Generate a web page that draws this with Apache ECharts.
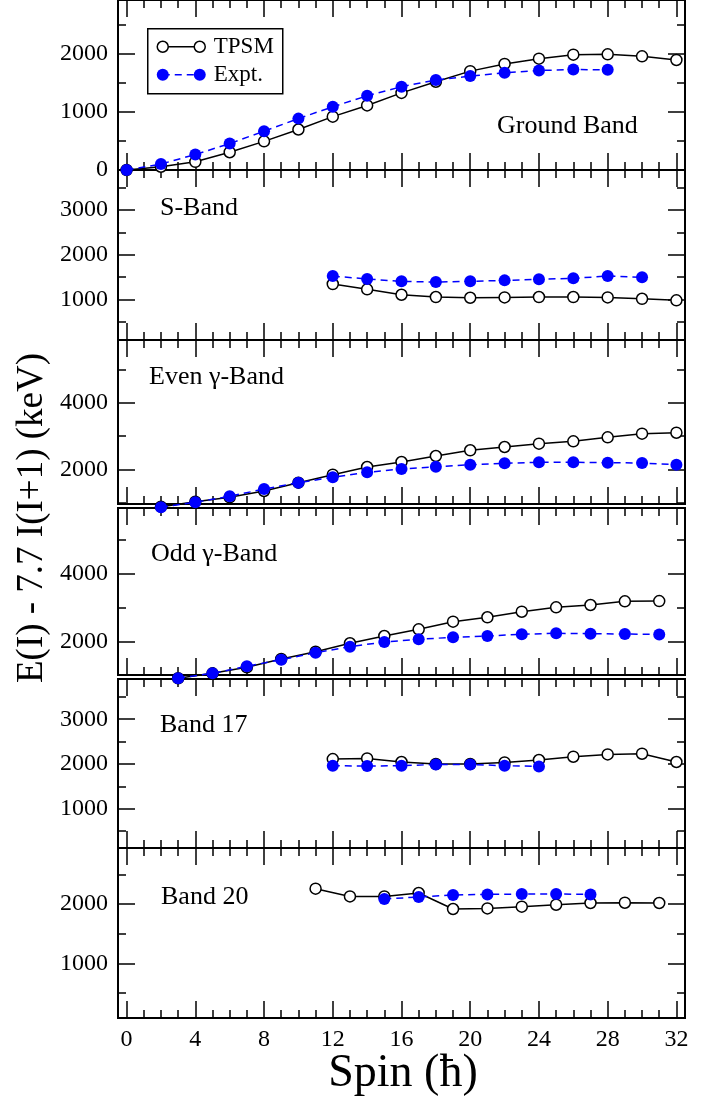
<!DOCTYPE html>
<html>
<head>
<meta charset="utf-8">
<script src="https://cdn.jsdelivr.net/npm/echarts@6/dist/echarts.min.js"></script>
<style>html,body{margin:0;padding:0;background:#fff}#c{width:722px;height:1099px}</style>
</head>
<body>
<div id="c"></div>
<script>
// ---------- data ----------
const groundSpin = [0,2,4,6,8,10,12,14,16,18,20,22,24,26,28,30,32];
const groundTPSM = [0,56,141,306,493,697,918,1111,1327,1519,1701,1825,1916,1984,1990,1956,1893];
const groundExptSpin = [0,2,4,6,8,10,12,14,16,18,20,22,24,26,28];
const groundExpt = [0,102,267,454,668,884,1088,1276,1434,1548,1616,1672,1712,1729,1723];

const sBandSpin = [12,14,16,18,20,22,24,26,28,30,32];
const sBandTPSM = [1343,1224,1103,1052,1036,1043,1052,1052,1043,1013,978];
const sBandExptSpin = [12,14,16,18,20,22,24,26,28,30];
const sBandExpt = [1522,1455,1403,1388,1403,1425,1448,1470,1522,1493];

const evenGammaSpin = [2,4,6,8,10,12,14,16,18,20,22,24,26,28,30,32];
const evenGammaTPSM = [877,1027,1159,1348,1598,1838,2069,2219,2399,2571,2670,2769,2841,2961,3069,3099];
const evenGammaExpt = [859,1009,1189,1408,1598,1760,1910,2009,2078,2138,2180,2210,2210,2198,2189,2138];

const oddGammaSpin = [3,5,7,9,11,13,15,17,19,21,23,25,27,29,31];
const oddGammaTPSM = [919,1066,1244,1489,1705,1953,2168,2366,2591,2721,2886,3016,3084,3193,3200];
const oddGammaExpt = [919,1066,1273,1468,1675,1852,1991,2071,2130,2168,2219,2248,2238,2227,2215];

const band17Spin = [12,14,16,18,20,22,24,26,28,30,32];
const band17TPSM = [2111,2125,2045,2000,2000,2036,2089,2163,2214,2230,2045];
const band17ExptSpin = [12,14,16,18,20,22,24];
const band17Expt = [1962,1955,1962,1991,1991,1962,1947];

const band20Spin = [11,13,15,17,19,21,23,25,27,29,31];
const band20TPSM = [2258,2128,2128,2185,1916,1926,1955,1988,2017,2022,2017];
const band20ExptSpin = [15,17,19,21,23,25,27];
const band20Expt = [2084,2118,2152,2162,2168,2168,2162];

const bandNames = ['Ground Band','S-Band','Even \u03b3-Band','Odd \u03b3-Band','Band 17','Band 20'];
const xTickLabels = [0,4,8,12,16,20,24,28,32];
const xMinorTicks = [1,2,3,5,6,7,9,10,11,13,14,15,17,18,19,21,22,23,25,26,27,29,30,31];
const yMajor = [[0,1000,2000],[1000,2000,3000],[2000,4000],[2000,4000],[1000,2000,3000],[1000,2000]];
const yMinor = [[500,1500,2500],[500,1500,2500,3500],[1000,3000,5000],[1000,3000,5000],[500,1500,2500,3500],[500,1500,2500]];

// ---------- layout ----------
const panels = [
  {top:-2,  bottom:170,  min:0,    max:2925},
  {top:170, bottom:340,  min:90,   max:3896},
  {top:340, bottom:504,  min:958,  max:5883},
  {top:508, bottom:675,  min:1016, max:5950},
  {top:679, bottom:848,  min:124,  max:3899},
  {top:848, bottom:1018, min:81,   max:2943}
];
const bands = [
  [groundSpin, groundTPSM, groundExptSpin, groundExpt],
  [sBandSpin, sBandTPSM, sBandExptSpin, sBandExpt],
  [evenGammaSpin, evenGammaTPSM, evenGammaSpin, evenGammaExpt],
  [oddGammaSpin, oddGammaTPSM, oddGammaSpin, oddGammaExpt],
  [band17Spin, band17TPSM, band17ExptSpin, band17Expt],
  [band20Spin, band20TPSM, band20ExptSpin, band20Expt]
];
const labelPos = [[497,128],[160,210],[149,379],[151,556],[160,727],[161,899]];

const FONT = "'Liberation Serif','DejaVu Serif',serif";
const LEFT = 118, RIGHT = 722-685;
const zip = (a,b) => a.map((v,i)=>[v,b[i]]);
const plain = v => String(v);

const grid=[], xAxis=[], yAxis=[], series=[], graphic=[];
const axLine = {show:true, onZero:false, lineStyle:{color:'#000', width:2}};
panels.forEach((p,i)=>{
  grid.push({left:LEFT, right:RIGHT, top:p.top, height:p.bottom-p.top, containLabel:false});
  const xb = {type:'value', gridIndex:i, min:-0.5, max:32.5, splitLine:{show:false}, axisLine:axLine};
  const isLast = i===panels.length-1;
  xAxis.push(
    {...xb, position:'bottom',
      axisTick:{show:true, inside:true, length:17, customValues:xTickLabels, lineStyle:{color:'#000',width:1.5}},
      axisLabel:{show:isLast, customValues:xTickLabels, formatter:plain, color:'#000', fontFamily:FONT, fontSize:24, margin:10}},
    {...xb, position:'bottom', axisTick:{show:true, inside:true, length:8, customValues:xMinorTicks, lineStyle:{color:'#000',width:1.5}}, axisLabel:{show:false}},
    {...xb, position:'top', axisTick:{show:true, inside:true, length:17, customValues:xTickLabels, lineStyle:{color:'#000',width:1.5}}, axisLabel:{show:false}},
    {...xb, position:'top', axisTick:{show:true, inside:true, length:8, customValues:xMinorTicks, lineStyle:{color:'#000',width:1.5}}, axisLabel:{show:false}}
  );
  const yb = {type:'value', gridIndex:i, min:p.min, max:p.max, splitLine:{show:false}, axisLine:axLine};
  yAxis.push(
    {...yb, position:'left',
      axisTick:{show:true, inside:true, length:17, customValues:yMajor[i], lineStyle:{color:'#000',width:1.5}},
      axisLabel:{show:true, customValues:yMajor[i], formatter:plain, color:'#000', fontFamily:FONT, fontSize:24, margin:10}},
    {...yb, position:'left', axisTick:{show:true, inside:true, length:8, customValues:yMinor[i], lineStyle:{color:'#000',width:1.5}}, axisLabel:{show:false}},
    {...yb, position:'right', axisTick:{show:true, inside:true, length:17, customValues:yMajor[i], lineStyle:{color:'#000',width:1.5}}, axisLabel:{show:false}},
    {...yb, position:'right', axisTick:{show:true, inside:true, length:8, customValues:yMinor[i], lineStyle:{color:'#000',width:1.5}}, axisLabel:{show:false}}
  );
  const [ts, tv, es, ev] = bands[i];
  series.push({
    name:'TPSM', type:'line', xAxisIndex:i*4, yAxisIndex:i*4, data:zip(ts,tv), clip:false,
    symbol:'circle', symbolSize:11, showAllSymbol:true,
    itemStyle:{color:'#fff', borderColor:'#000', borderWidth:1.5},
    lineStyle:{color:'#000', width:1.5}, z:3
  },{
    name:'Expt.', type:'line', xAxisIndex:i*4, yAxisIndex:i*4, data:zip(es,ev), clip:false,
    symbol:'circle', symbolSize:12, showAllSymbol:true,
    itemStyle:{color:'#0000ff', borderWidth:0},
    lineStyle:{color:'#0000ff', width:1.5, type:[7,5]}, z:4
  });
  graphic.push({type:'text', left:labelPos[i][0], top:labelPos[i][1]-15,
    style:{text:bandNames[i], font:"26px "+FONT, fill:'#000'}});
});

// legend box
graphic.push({type:'group', left:147, top:28, children:[
  {type:'rect', shape:{x:0,y:0,width:135,height:65}, style:{fill:'#fff', stroke:'#000', lineWidth:1.5}},
  {type:'line', shape:{x1:15,y1:18,x2:52,y2:18}, style:{stroke:'#000', lineWidth:1.5}},
  {type:'circle', shape:{cx:15,cy:18,r:5.5}, style:{fill:'#fff', stroke:'#000', lineWidth:1.5}},
  {type:'circle', shape:{cx:52,cy:18,r:5.5}, style:{fill:'#fff', stroke:'#000', lineWidth:1.5}},
  {type:'text', x:66, y:18, style:{text:'TPSM', font:"23px "+FONT, fill:'#000', textVerticalAlign:'middle'}},
  {type:'line', shape:{x1:15,y1:46,x2:52,y2:46}, style:{stroke:'#0000ff', lineWidth:1.5, lineDash:[7,5]}},
  {type:'circle', shape:{cx:15,cy:46,r:6}, style:{fill:'#0000ff'}},
  {type:'circle', shape:{cx:52,cy:46,r:6}, style:{fill:'#0000ff'}},
  {type:'text', x:66, y:46, style:{text:'Expt.', font:"23px "+FONT, fill:'#000', textVerticalAlign:'middle'}}
]});
// axis titles
graphic.push({type:'text', x:32, y:518, rotation:Math.PI/2,
  style:{text:'E(I) - 7.7 I(I+1) (keV)', font:"37px "+FONT, fill:'#000', textAlign:'center', textVerticalAlign:'middle'}});
graphic.push({type:'text', x:403, y:1074,
  style:{text:'Spin (\u0127)', font:"46px "+FONT, fill:'#000', textAlign:'center', textVerticalAlign:'middle'}});

const chart = echarts.init(document.getElementById('c'), null, {renderer:'canvas'});
chart.setOption({animation:false, backgroundColor:'#fff', grid, xAxis, yAxis, series, graphic});
</script>
</body>
</html>
